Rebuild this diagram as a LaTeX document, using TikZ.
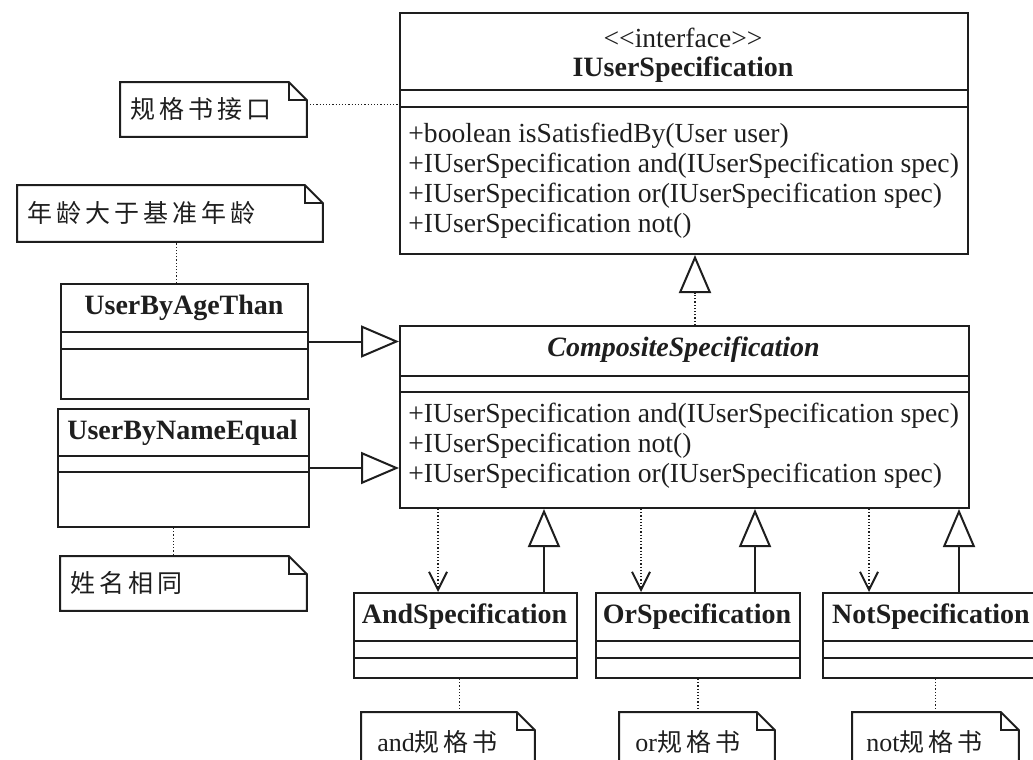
\documentclass[tikz,border=0pt]{standalone}
\usepackage{fontspec}
\setmainfont{Liberation Serif}
\newfontfamily\cjk{Noto Sans CJK SC}[LetterSpace=16]
\usetikzlibrary{arrows.meta,calc}
\definecolor{umlInk}{HTML}{1E1E1E}

\begin{document}
\begin{tikzpicture}[
  x=0.5pt, y=-0.5pt,
  umlline/.style={draw=umlInk, line width=1pt},
  umlclass/.style={umlline, anchor=north west, inner sep=0pt},
  clsname/.style={font=\fontsize{14}{16}\selectfont\bfseries, text=umlInk, inner sep=0pt},
  members/.style={font=\fontsize{13.8}{15}\selectfont, text=umlInk, align=left, anchor=west, inner sep=0pt},
  umlnote/.style={anchor=north west, align=left, inner ysep=0pt, text=umlInk, font=\fontsize{12.5}{14}\selectfont\cjk},
  gen/.style={umlline, -{Triangle[open, length=19pt, width=16pt]}},
  realize/.style={draw=umlInk, line width=0.6pt, densely dotted, -{Triangle[open, length=19pt, width=16pt, line width=1pt]}},
  dep/.style={draw=umlInk, line width=0.6pt, densely dotted, -{Straight Barb[length=9pt, width=9pt, line width=1pt]}},
  notelink/.style={draw=umlInk, line width=0.6pt, densely dotted}
]
\clip (0,0) rectangle (1033,760);

% classes
\node[umlclass, minimum width=284pt, minimum height=120.5pt] (iface) at (399,12) {};
\node[umlclass, minimum width=284.5pt, minimum height=91pt] (composite) at (399,325) {};
\node[umlclass, minimum width=123.5pt, minimum height=57.5pt] (ageThan) at (60,283) {};
\node[umlclass, minimum width=125.5pt, minimum height=59pt] (nameEqual) at (57,408) {};
\node[umlclass, minimum width=111.5pt, minimum height=42.5pt] (andSpec) at (353,592) {};
\node[umlclass, minimum width=102pt, minimum height=42.5pt] (orSpec) at (595,592) {};
\node[umlclass, minimum width=109pt, minimum height=42.5pt] (notSpec) at (822,592) {};

\foreach \c/\a/\b in {iface/39pt/47.5pt, composite/25.5pt/33.5pt, ageThan/24.5pt/33pt,
    nameEqual/24pt/32pt, andSpec/24.5pt/33pt, orSpec/24.5pt/33pt, notSpec/24.5pt/33pt}
  \foreach \d in {\a,\b}
    \draw[umlline] ([yshift=-\d]\c.north west) -- ([yshift=-\d]\c.north east);

% names and members
\node[clsname, font=\fontsize{13.8}{15}\selectfont] (ifaceStereo) at (683,38) {<\kern0pt<interface>\kern0pt>};
\node[clsname] (ifaceName) at (683,70) {IUserSpecification};
\node[members] (ifaceOps) at (408,181) {+boolean isSatisfiedBy(User user)\\
  +IUserSpecification and(IUserSpecification spec)\\
  +IUserSpecification or(IUserSpecification spec)\\
  +IUserSpecification not()};
\node[clsname, font=\fontsize{14}{16}\selectfont\bfseries\itshape] (compositeName) at (683.5,350) {CompositeSpecification};
\node[members] (compositeOps) at (408,446) {+IUserSpecification and(IUserSpecification spec)\\
  +IUserSpecification not()\\
  +IUserSpecification or(IUserSpecification spec)};
\node[clsname] (ageThanName) at (184,308) {UserByAgeThan};
\node[clsname] (nameEqualName) at (182.5,433) {UserByNameEqual};
\node[clsname] (andName) at (464.5,617) {AndSpecification};
\node[clsname] (orName) at (697,617) {OrSpecification};
\node[clsname] (notName) at (931,617) {NotSpecification};

% notes
\node[umlnote, inner xsep=5pt, text width=83pt, minimum height=27pt] (ifaceNote) at (120,82) {规格书接口};
\node[umlnote, inner xsep=5pt, text width=142.5pt, minimum height=28pt] (ageNote) at (17,185) {年龄大于基准年龄};
\node[umlnote, inner xsep=5pt, text width=113pt, minimum height=27pt] (nameNote) at (60,556) {姓名相同};
\node[umlnote, inner xsep=8pt, text width=70.5pt, minimum height=30pt] (andNote) at (361,712) {{\rmfamily\fontsize{13}{15}\selectfont and}规格书};
\node[umlnote, inner xsep=8pt, text width=61.5pt, minimum height=30pt] (orNote) at (619,712) {{\rmfamily\fontsize{13}{15}\selectfont or}规格书};
\node[umlnote, inner xsep=7pt, text width=69pt, minimum height=30pt] (notNote) at (852,712) {{\rmfamily\fontsize{13}{15}\selectfont not}规格书};

\foreach \n in {ifaceNote, ageNote, nameNote, andNote, orNote, notNote} {
  \draw[umlline] (\n.north west) -- ([xshift=-9pt]\n.north east) -- ([yshift=-9pt]\n.north east)
    -- (\n.south east) -- (\n.south west) -- cycle;
  \draw[umlline] ([xshift=-9pt]\n.north east) |- ([yshift=-9pt]\n.north east);
}

% relations
\draw[realize] ([xshift=5.25pt]composite.north) -- ([xshift=5.25pt]composite.north |- iface.south);
\draw[gen] (ageThan.east) -- (ageThan.east -| composite.west);
\draw[gen] (nameEqual.east) -- (nameEqual.east -| composite.west);
\draw[dep] ([xshift=-13.75pt]andSpec.north |- composite.south) -- ([xshift=-13.75pt]andSpec.north);
\draw[gen] ([xshift=39.25pt]andSpec.north) -- ([xshift=39.25pt]andSpec.north |- composite.south);
\draw[dep] ([xshift=-28.5pt]orSpec.north |- composite.south) -- ([xshift=-28.5pt]orSpec.north);
\draw[gen] ([xshift=28.5pt]orSpec.north) -- ([xshift=28.5pt]orSpec.north |- composite.south);
\draw[dep] ([xshift=-31.5pt]notSpec.north |- composite.south) -- ([xshift=-31.5pt]notSpec.north);
\draw[gen] ([xshift=13.5pt]notSpec.north) -- ([xshift=13.5pt]notSpec.north |- composite.south);

% note links
\draw[notelink] ([yshift=2.5pt]ifaceNote.east) -- ([yshift=2.5pt]ifaceNote.east -| iface.west);
\draw[notelink] ([xshift=-4pt]ageThan.north) -- ([xshift=-4pt]ageThan.north |- ageNote.south);
\draw[notelink] ([xshift=-5pt]nameEqual.south) -- ([xshift=-5pt]nameEqual.south |- nameNote.north);
\draw[notelink] ([xshift=-3pt]andSpec.south) -- ([xshift=-3pt]andSpec.south |- andNote.north);
\draw[notelink] (orSpec.south) -- (orSpec.south |- orNote.north);
\draw[notelink] (notNote.north) -- (notNote.north |- notSpec.south);
\end{tikzpicture}
\end{document}
